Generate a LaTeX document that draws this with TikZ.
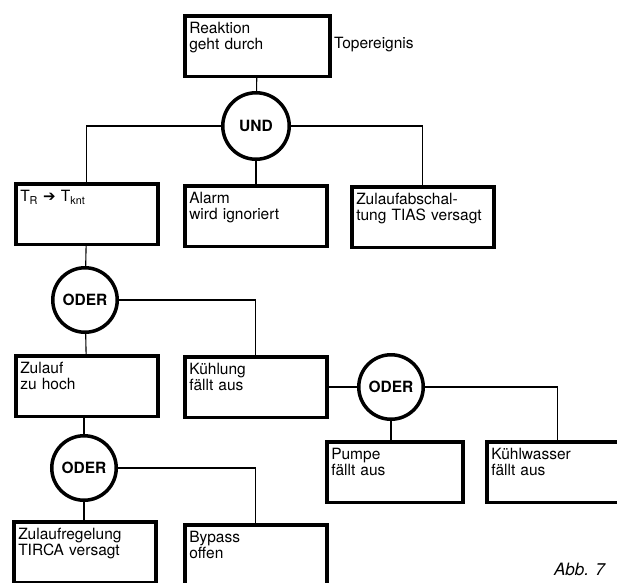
\documentclass[tikz,border=0pt]{standalone}
\usepackage{fontspec}
\setmainfont{TeX Gyre Heros}
\newfontfamily\symfont{DejaVu Sans}
\usetikzlibrary{positioning}

\tikzset{
  event/.style={draw, line width=3.5pt, anchor=north west, inner xsep=4.5pt, inner ysep=0pt,
    text width=133pt, text height=18pt, text depth=42.5pt, align=left,
    font=\fontsize{15.5}{16}\selectfont},
  gate/.style={circle, draw, line width=3.5pt, minimum size=64.5pt, inner sep=0pt,
    font=\fontsize{15.5}{16}\selectfont\bfseries},
  link/.style={line width=1.1pt}
}

\begin{document}
\begin{tikzpicture}[x=1pt, y=-1pt]
            \useasboundingbox (0,0) rectangle (617,582);

            % Events
            \foreach \name/\x/\y/\txt in {tr/14/182/{T\textsubscript{R} {\symfont\fontsize{15}{15}\selectfont ➔} T\textsubscript{knt}},
                alarm/183/184/{Alarm\\wird ignoriert}, tias/350/185/{Zulaufabschal-\\tung TIAS versagt},
                zulauf/14/354/{Zulauf\\zu hoch}, kuehl/183/355/{Kühlung\\fällt aus},
                kwasser/485/440/{Kühlwasser\\fällt aus}, regel/12/520/{Zulaufregelung\\TIRCA versagt},
                bypass/183/523/{Bypass\\offen}} {
                    \node[event] (\name) at (\x,\y) {\txt};
                }
            \node[event, text width=136pt] (top) at (183,14) {Reaktion\\geht durch};
            \node[event, text width=127pt] (pumpe) at (325,440) {Pumpe\\fällt aus};

            % Gates
            \node[gate, minimum size=66.5pt] (und) at (256,126) {UND};
            \node[gate] (oder1) at (85,300) {ODER};
            \node[gate] (oder2) at (391,387) {ODER};
            \node[gate] (oder3) at (84,468) {ODER};

            % Labels
            \node[anchor=base west, inner sep=0pt, font=\fontsize{15.5}{16}\selectfont] (toplabel) at (334,48) {Topereignis};
            \node[anchor=base west, inner sep=0pt, font=\fontsize{17}{20}\selectfont\itshape] (abb) at (554,575) {Abb. 7};

            % Connect the tree
            \draw[link] (top) -- (und);
            \draw[link] (und) -| (tr);
            \draw[link] (und.south) -- (und.south |- alarm.north);
            \draw[link] (und) -| (tias);
            \draw[link] (tr) -- (oder1);
            \draw[link] (oder1) -- (zulauf);
            \draw[link] (oder1) -| (kuehl);
            \draw[link] (kuehl.east |- oder2) -- (oder2);
            \draw[link] (oder2) -- (oder2 |- pumpe.north);
            \draw[link] (oder2) -| (kwasser);
            \draw[link] (oder3 |- zulauf.south) -- (oder3);
            \draw[link] (oder3) -- (oder3 |- regel.north);
            \draw[link] (oder3) -| (bypass);

        \end{tikzpicture}
\end{document}
